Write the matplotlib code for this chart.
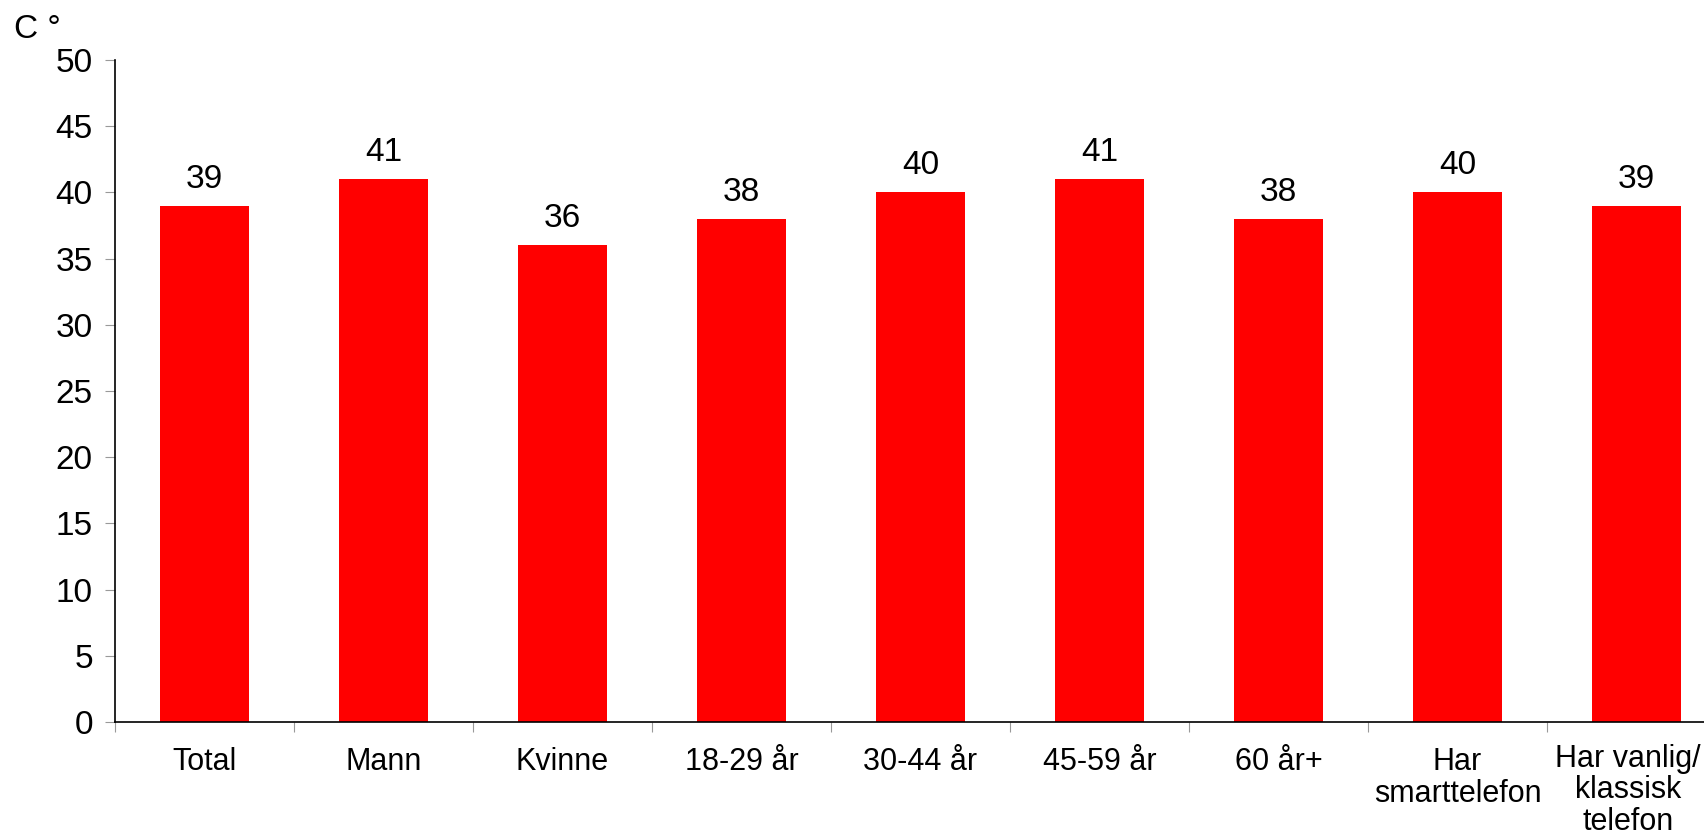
import matplotlib
matplotlib.use("Agg")
import matplotlib.pyplot as plt
import numpy as np

# categories and values
categories = ["Total", "Mann", "Kvinne", "18-29 år", "30-44 år", "45-59 år",
              "60 år+", "Har\nsmarttelefon", "Har vanlig/\nklassisk\ntelefon"]
values = [39, 41, 36, 38, 40, 41, 38, 40, 39]
y_ticks = [0, 5, 10, 15, 20, 25, 30, 35, 40, 45, 50]

plt.rcParams["font.family"] = ["Liberation Sans", "DejaVu Sans"]

fig = plt.figure(figsize=(17.04, 8.38), dpi=100)
ax = fig.add_axes([0.0675, 0.1384, 0.9454, 0.79])

x = np.arange(len(categories))
bars = ax.bar(x, values, width=0.5, color="#ff0000", edgecolor="none")

# value labels above bars
for xi, v in zip(x, values):
    ax.annotate(str(v), (xi, v), xytext=(0, 8), textcoords="offset points",
                ha="center", va="bottom", fontsize=24)

ax.set_xlim(-0.5, len(categories) - 0.5)
ax.set_ylim(0, 50)
ax.set_yticks(y_ticks)
ax.tick_params(axis="y", labelsize=24, length=7, color="#999999", pad=9)

# category labels centered, ticks on the boundaries
ax.set_xticks(np.arange(len(categories) + 1) - 0.5)
ax.set_xticklabels([])
ax.set_xticks(x, minor=True)
ax.set_xticklabels(categories[:-1] + [""], minor=True, fontsize=22,
                   linespacing=1.1, va="top")
ax.tick_params(axis="x", which="major", length=7, color="#999999")
ax.tick_params(axis="x", which="minor", length=0, pad=18)

# last label nudged so it stays inside the figure
ax.annotate(categories[-1], xy=(x[-1], 0), xycoords=("data", "axes fraction"),
            xytext=(-6, -16), textcoords="offset points", ha="center", va="top",
            fontsize=22, linespacing=1.05)

for side in ["top", "right"]:
    ax.spines[side].set_visible(False)
ax.spines["left"].set_linewidth(1.2)
ax.spines["bottom"].set_linewidth(1.2)

fig.text(0.008, 0.955, "C °", fontsize=24, ha="left", va="baseline")

fig.savefig("out.png", dpi=100)
